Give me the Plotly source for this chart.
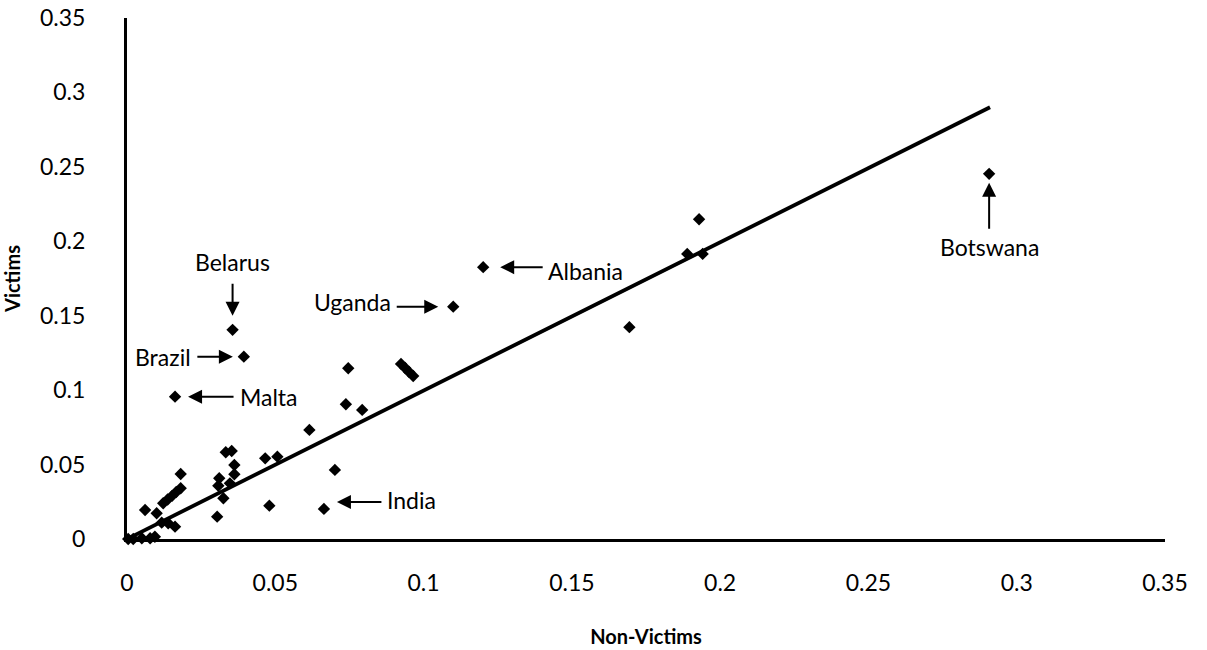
import plotly.graph_objects as go

# ---- data ----
country = ["Botswana", "Albania", "Uganda", "Belarus", "Brazil", "Malta", "India"] + [""] * 41
non_victims = [0.2907, 0.1201, 0.1100, 0.0356, 0.0394, 0.0162, 0.0664,
               0.1929, 0.1889, 0.1941, 0.1694, 0.0746,
               0.0924, 0.0938, 0.0951, 0.0965,
               0.0738, 0.0793, 0.0615,
               0.0333, 0.0353, 0.0466, 0.0507, 0.0362, 0.0362, 0.0311, 0.0308, 0.0347, 0.0325,
               0.0701, 0.0480, 0.0181,
               0.0122, 0.0137, 0.0152, 0.0166, 0.0181,
               0.0061, 0.0100, 0.0304, 0.0117, 0.0139, 0.0162,
               0.0004, 0.0021, 0.0050, 0.0078, 0.0094]
victims = [0.2453, 0.1826, 0.1561, 0.1405, 0.1225, 0.0956, 0.0202,
           0.2148, 0.1915, 0.1915, 0.1423, 0.1147,
           0.1176, 0.1149, 0.1122, 0.1095,
           0.0905, 0.0867, 0.0733,
           0.0583, 0.0591, 0.0542, 0.0553, 0.0497, 0.0435, 0.0408, 0.0358, 0.0374, 0.0274,
           0.0464, 0.0224, 0.0437,
           0.0240, 0.0265, 0.0290, 0.0316, 0.0341,
           0.0195, 0.0173, 0.0150, 0.0110, 0.0106, 0.0083,
           0.0, 0.0, 0.0005, 0.0005, 0.0015]

fit_x = [0.0, 0.291]
fit_y = [0.0, 0.290]

tick_vals = [0, 0.05, 0.1, 0.15, 0.2, 0.25, 0.3, 0.35]
tick_text = ["0", "0.05", "0.1", "0.15", "0.2", "0.25", "0.3", "0.35"]

# label styling: (arrow ax, arrow ay, standoff, arrow yshift, text xanchor, text xshift, text yshift)
label_style = {
    "Belarus":  (0, -47, 14, 0, "center", 0, 68),
    "Brazil":   (-47, 0, 11, 0, "right", -51, 0),
    "Malta":    (59, 0, 13, 0, "left", 63, 0),
    "Uganda":   (-57, 0, 15, 0, "right", -60, 5),
    "Albania":  (60, 0, 17, 0, "left", 63, -4),
    "India":    (58, 0, 13, 7, "left", 61, 9),
    "Botswana": (0, 56, 9, 0, "center", 0, -73),
}

FONT = "Lato, 'Open Sans', sans-serif"

fig = go.Figure()
fig.add_trace(go.Scatter(
    x=fit_x, y=fit_y, mode="lines",
    line=dict(color="black", width=3.8),
    hoverinfo="skip", showlegend=False,
))
fig.add_trace(go.Scatter(
    x=non_victims, y=victims, mode="markers", text=country,
    marker=dict(symbol="diamond", size=9.5, color="black", line=dict(width=0)),
    cliponaxis=False, showlegend=False,
))

annotations = []
for name, xv, yv in zip(country, non_victims, victims):
    if not name:
        continue
    ax, ay, so, ysh, xa, txs, tys = label_style[name]
    annotations.append(dict(
        x=xv, y=yv, xref="x", yref="y", text=" ", showarrow=True,
        ax=ax, ay=ay, standoff=so, yshift=ysh,
        arrowhead=2, arrowsize=1.4, arrowwidth=2, arrowcolor="black",
        font=dict(size=1), borderpad=0,
    ))
    annotations.append(dict(
        x=xv, y=yv, xref="x", yref="y", text=name, showarrow=False,
        xanchor=xa, yanchor="middle", xshift=txs, yshift=tys,
        font=dict(family=FONT, size=23, color="black"),
    ))

fig.update_layout(
    width=1207, height=650,
    margin=dict(l=127, r=42, t=18, b=111),
    paper_bgcolor="white", plot_bgcolor="white",
    font=dict(family=FONT, size=23, color="black"),
    annotations=annotations,
    xaxis=dict(
        range=[0, 0.35], tickvals=tick_vals, ticktext=tick_text,
        showline=True, linecolor="black", linewidth=3,
        showgrid=False, zeroline=False,
        ticks="outside", ticklen=21, tickcolor="rgba(0,0,0,0)",
        tickfont=dict(family=FONT, size=23),
        title=dict(text="<b>Non-Victims</b>", font=dict(family=FONT, size=20), standoff=36),
        automargin=False,
    ),
    yaxis=dict(
        range=[0, 0.35], tickvals=tick_vals, ticktext=tick_text,
        showline=True, linecolor="black", linewidth=3,
        showgrid=False, zeroline=False,
        ticks="outside", ticklen=34, tickcolor="rgba(0,0,0,0)",
        tickfont=dict(family=FONT, size=23),
        title=dict(text="<b>Victims</b>", font=dict(family=FONT, size=20), standoff=22),
        automargin=False,
    ),
)

fig.write_html(
    "out.html",
    config={"displayModeBar": False},
    post_script="document.body.style.margin='0px';document.body.style.overflow='hidden';",
)
